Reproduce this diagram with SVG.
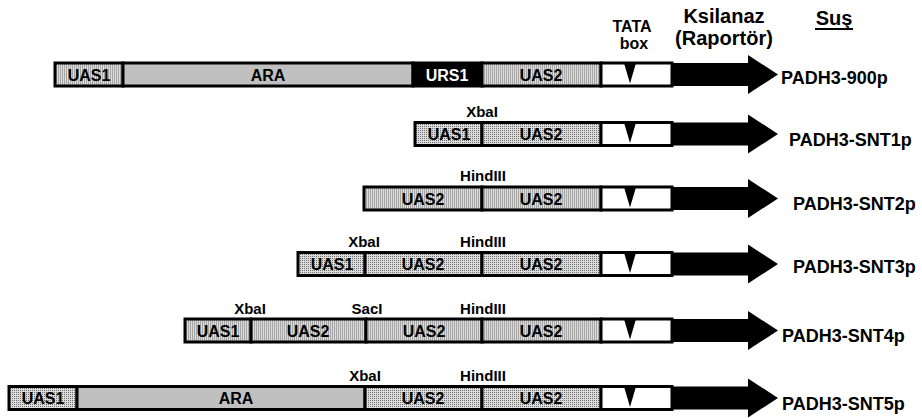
<svg xmlns="http://www.w3.org/2000/svg" width="922" height="418" viewBox="0 0 922 418">
<defs>
<pattern id="dots" width="2" height="2" patternUnits="userSpaceOnUse">
<rect width="2" height="2" fill="#dcdcdc"/>
<rect width="1" height="1" fill="#707070"/>
</pattern>
<polygon id="arrow" points="0,-11.5 76,-11.5 76,-19.5 106,0 76,19.5 76,11.5 0,11.5" fill="#000"/>
</defs>
<style>
text{font-family:"Liberation Sans",Arial,sans-serif;font-weight:bold;fill:#000}
.seg{stroke:#000;stroke-width:3}
.d{fill:url(#dots)}
.a{fill:#c0c0c0}
.k{fill:#000}
.w{fill:#fff}
.in{font-size:16px;text-anchor:middle}
.inw{font-size:16px;text-anchor:middle;fill:#fff}
.cut{font-size:15px;text-anchor:middle}
.lab{font-size:18px}
.hd{font-size:20px;text-anchor:middle}
.hs{font-size:16px;text-anchor:middle}
.tri{fill:#000}
</style>
<g id="header">
<text class="hs" x="632" y="32">TATA</text>
<text class="hs" x="634" y="49">box</text>
<text class="hd" x="724" y="23">Ksilanaz</text>
<text class="hd" x="724" y="45">(Raportör)</text>
<text class="hd" x="834" y="25">Suş</text>
<line x1="815" y1="29" x2="853" y2="29" stroke="#000" stroke-width="2"/>
</g>
<g id="row1" transform="translate(0,74.5)">
<rect class="seg d" x="55" y="-11.5" width="68" height="23"/>
<rect class="seg a" x="123" y="-11.5" width="290" height="23"/>
<rect class="seg k" x="413" y="-11.5" width="69" height="23"/>
<rect class="seg d" x="482" y="-11.5" width="119" height="23"/>
<rect class="seg w" x="601" y="-11.5" width="71" height="23"/>
<polygon class="tri" points="624,-11.5 636,-11.5 630,9"/>
<use href="#arrow" x="672"/>
<text class="in" x="89" y="6">UAS1</text>
<text class="in" x="268" y="6">ARA</text>
<text class="inw" x="447" y="6">URS1</text>
<text class="in" x="541" y="6">UAS2</text>
<text class="lab" x="781" y="9">PADH3-900p</text>
</g>
<g id="row2" transform="translate(0,134)">
<rect class="seg d" x="415" y="-11.5" width="67" height="23"/>
<rect class="seg d" x="482" y="-11.5" width="119" height="23"/>
<rect class="seg w" x="601" y="-11.5" width="71" height="23"/>
<polygon class="tri" points="624,-11.5 636,-11.5 630,9"/>
<use href="#arrow" x="672"/>
<text class="in" x="449" y="6">UAS1</text>
<text class="in" x="541" y="6">UAS2</text>
<text class="cut" x="482" y="-17">XbaI</text>
<text class="lab" x="789" y="12">PADH3-SNT1p</text>
</g>
<g id="row3" transform="translate(0,198.5)">
<rect class="seg d" x="364" y="-11.5" width="118" height="23"/>
<rect class="seg d" x="482" y="-11.5" width="119" height="23"/>
<rect class="seg w" x="601" y="-11.5" width="71" height="23"/>
<polygon class="tri" points="624,-11.5 636,-11.5 630,9"/>
<use href="#arrow" x="672"/>
<text class="in" x="423" y="6">UAS2</text>
<text class="in" x="541" y="6">UAS2</text>
<text class="cut" x="483" y="-18">HindIII</text>
<text class="lab" x="793" y="11.5">PADH3-SNT2p</text>
</g>
<g id="row4" transform="translate(0,264)">
<rect class="seg d" x="298" y="-11.5" width="67" height="23"/>
<rect class="seg d" x="365" y="-11.5" width="117" height="23"/>
<rect class="seg d" x="482" y="-11.5" width="119" height="23"/>
<rect class="seg w" x="601" y="-11.5" width="71" height="23"/>
<polygon class="tri" points="624,-11.5 636,-11.5 630,9"/>
<use href="#arrow" x="672"/>
<text class="in" x="332" y="6">UAS1</text>
<text class="in" x="423" y="6">UAS2</text>
<text class="in" x="541" y="6">UAS2</text>
<text class="cut" x="364" y="-17">XbaI</text>
<text class="cut" x="483" y="-17">HindIII</text>
<text class="lab" x="793" y="9">PADH3-SNT3p</text>
</g>
<g id="row5" transform="translate(0,330.5)">
<rect class="seg d" x="185" y="-11.5" width="66" height="23"/>
<rect class="seg d" x="251" y="-11.5" width="115" height="23"/>
<rect class="seg d" x="366" y="-11.5" width="116" height="23"/>
<rect class="seg d" x="482" y="-11.5" width="119" height="23"/>
<rect class="seg w" x="601" y="-11.5" width="71" height="23"/>
<polygon class="tri" points="624,-11.5 636,-11.5 630,9"/>
<use href="#arrow" x="672"/>
<text class="in" x="218" y="6">UAS1</text>
<text class="in" x="308" y="6">UAS2</text>
<text class="in" x="424" y="6">UAS2</text>
<text class="in" x="541" y="6">UAS2</text>
<text class="cut" x="250" y="-17">XbaI</text>
<text class="cut" x="367" y="-17">SacI</text>
<text class="cut" x="483" y="-17">HindIII</text>
<text class="lab" x="782" y="11.5">PADH3-SNT4p</text>
</g>
<g id="row6" transform="translate(0,398)">
<rect class="seg d" x="9" y="-11.5" width="68" height="23"/>
<rect class="seg a" x="77" y="-11.5" width="288" height="23"/>
<rect class="seg d" x="365" y="-11.5" width="117" height="23"/>
<rect class="seg d" x="482" y="-11.5" width="119" height="23"/>
<rect class="seg w" x="601" y="-11.5" width="71" height="23"/>
<polygon class="tri" points="624,-11.5 636,-11.5 630,9"/>
<use href="#arrow" x="672"/>
<text class="in" x="43" y="6">UAS1</text>
<text class="in" x="236" y="6">ARA</text>
<text class="in" x="423" y="6">UAS2</text>
<text class="in" x="541" y="6">UAS2</text>
<text class="cut" x="365" y="-17">XbaI</text>
<text class="cut" x="483" y="-17">HindIII</text>
<text class="lab" x="782" y="12">PADH3-SNT5p</text>
</g>
</svg>
